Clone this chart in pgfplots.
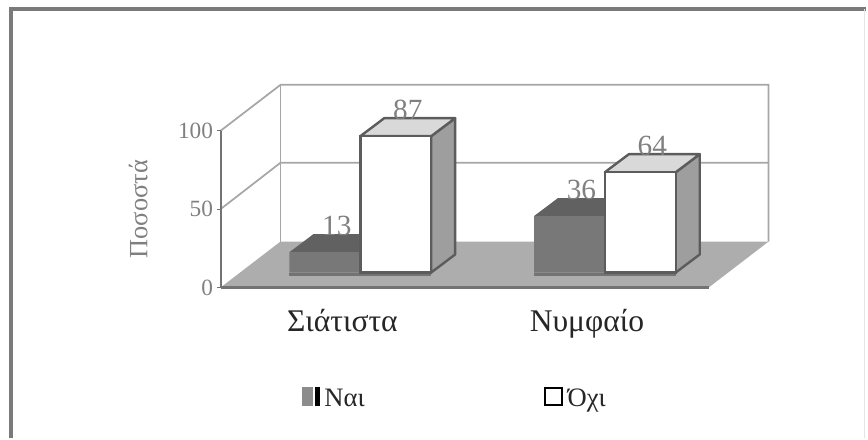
\documentclass[border=0pt]{standalone}
\usepackage{fontspec}
\setmainfont{Liberation Serif}
\usepackage{pgfplots}
\pgfplotsset{compat=1.18}
\definecolor{wallline}{gray}{0.65}
\definecolor{axisline}{gray}{0.45}
\definecolor{floorc}{gray}{0.68}
\definecolor{naifront}{gray}{0.47}
\definecolor{naitop}{gray}{0.38}
\definecolor{oxiedge}{gray}{0.36}
\definecolor{oxitop}{gray}{0.85}
\definecolor{oxiside}{gray}{0.62}
\definecolor{txt}{gray}{0.5}
\pgfplotsset{
  face/.style={forget plot,yshift=11.25pt,fill=#1,draw=none},
  oface/.style={forget plot,yshift=11.25pt,fill=#1,draw=oxiedge,line width=1.8pt,line join=round},
  wall/.style={forget plot,draw=wallline,line width=1.3pt,mark=none},
}
\begin{document}
\begin{tikzpicture}
\begin{axis}[
  axis on top,
  scale only axis, width=366.75pt, height=117.75pt,
  xmin=221, xmax=710, ymin=0, ymax=100,
  clip=false,
  axis x line*=bottom, axis y line*=left,
  axis line style={draw=axisline,line width=1.6pt,-},
  ytick={0,50,100},
  xtick={343,588},
  xticklabels={Σιάτιστα,Νυμφαίο},
  x tick style={draw=none},
  y tick style={draw=axisline,line width=0.8pt},
  tick align=outside, major tick length=2.5pt,
  /pgf/number format/assume math mode=true,
  yticklabel style={font=\fontsize{17.5}{17.5}\selectfont,text=txt,xshift=-3pt},
  xticklabel style={font=\fontsize{23.7}{23.7}\selectfont,text=black!85,anchor=base,yshift=-30.5pt},
  tick label style={inner sep=0pt},
  ylabel={Ποσοστά},
  ylabel style={font=\fontsize{19.8}{19.8}\selectfont,text=txt,at={(axis description cs:-0.169,0.5)},anchor=center},
  bar shift=0pt,
  legend style={at={(axis cs:302,-71)},anchor=west,draw=none,fill=none,inner sep=0pt,
    font=\fontsize{20}{20}\selectfont,text=black!85,
    cells={anchor=base west},
    /tikz/every odd column/.style={column sep=1.5pt},
    /tikz/every even column/.style={column sep=133pt}},
  legend columns=2,
]
% page and frame
\addplot[forget plot,draw=none,fill=none] coordinates {(0,183.44)(868,183.44)(868,-96.18)(0,-96.18)} -- cycle;
\addplot[forget plot,draw=black!52,line width=2.4pt,mark=none] coordinates {(11,-96.18)(11,177.7)(868,177.7)};
\addplot[forget plot,draw=black!10,line width=0.8pt,mark=none] coordinates {(866,177.7)(866,-96.18)};
% walls and floor
\addplot[wall] coordinates {(221,100)(281,129.3)(770,129.3)(770,29.3)};
\addplot[wall] coordinates {(281,129.3)(281,29.3)};
\addplot[wall] coordinates {(221,50)(281,79.6)(770,79.6)};
\addplot[forget plot,fill=floorc,draw=none] coordinates {(221,0)(281,29.3)(770,29.3)(710,0)} -- cycle;
% value labels, behind the bars
\addplot[forget plot,draw=none,mark=none,point meta=y,nodes near coords,
  nodes near coords style={anchor=base,text=txt,font=\fontsize{22}{22}\selectfont,xshift=9pt,yshift=24pt,
    /pgf/number format/fixed,/pgf/number format/assume math mode=true,inner sep=0pt}]
  coordinates {(325.5,13)(396.5,87)(570.5,36)(641.5,64)};
% shadow lips
\addplot[face=axisline] coordinates {(290,-2.5)(432,-2.5)(432,0)(290,0)} -- cycle;
\addplot[face=axisline] coordinates {(535,-2.5)(677,-2.5)(677,0)(535,0)} -- cycle;
% Nai bars
\addplot[face=naitop] coordinates {(290,13)(361,13)(385,24.5)(314,24.5)} -- cycle;
\addplot[face=naitop] coordinates {(535,36)(606,36)(630,47.5)(559,47.5)} -- cycle;
\addplot[ybar,bar width=53.25pt,yshift=11.25pt,fill=naifront,draw=none,
  legend image code/.code={
    \fill[black!45] (0pt,-10.5pt) rectangle (8.5pt,3.5pt);
    \fill[black] (10pt,-10.5pt) rectangle (13.5pt,3.5pt);}]
  coordinates {(325.5,13)(570.5,36)};
\addlegendentry{Ναι}
% Oxi bars
\addplot[oface=oxiside] coordinates {(432,0)(456,11.5)(456,98.5)(432,87)} -- cycle;
\addplot[oface=oxitop] coordinates {(361,87)(432,87)(456,98.5)(385,98.5)} -- cycle;
\addplot[oface=oxiside] coordinates {(677,0)(701,11.5)(701,75.5)(677,64)} -- cycle;
\addplot[oface=oxitop] coordinates {(606,64)(677,64)(701,75.5)(630,75.5)} -- cycle;
\addplot[ybar,bar width=53.25pt,yshift=11.25pt,fill=white,draw=oxiedge,line width=1.8pt,
  legend image code/.code={
    \draw[black,fill=white,line width=1.5pt] (0pt,-10pt) rectangle (12.5pt,3pt);}]
  coordinates {(396.5,87)(641.5,64)};
\addlegendentry{Όχι}
\end{axis}
\end{tikzpicture}
\end{document}
